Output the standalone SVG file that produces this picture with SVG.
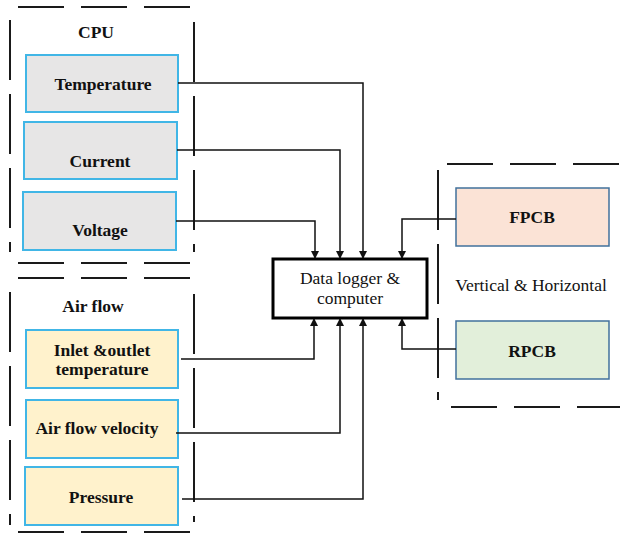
<svg xmlns="http://www.w3.org/2000/svg" width="621" height="534" viewBox="0 0 621 534">
<style>
.dash{stroke:#1a1a1a;stroke-width:2;fill:none;stroke-dasharray:46,17}
.dashv{stroke:#1a1a1a;stroke-width:2;fill:none;stroke-dasharray:60,14}
.cpu{fill:#e7e6e6;stroke:#41b6e6;stroke-width:2}
.air{fill:#fff2cc;stroke:#41b6e6;stroke-width:2}
.pcb{stroke:#41719c;stroke-width:1.5}
.b{font-family:"Liberation Serif","Times New Roman",serif;font-weight:bold;font-size:17.5px;fill:#111;text-anchor:middle}
.n{font-family:"Liberation Serif","Times New Roman",serif;font-size:17.5px;fill:#111;text-anchor:middle}
.c{stroke:#111;stroke-width:1.5;fill:none;marker-end:url(#ah)}
</style>
<defs>
<marker id="ah" markerWidth="8" markerHeight="10" refX="7" refY="4" orient="auto" markerUnits="userSpaceOnUse">
<path d="M0,0 L8,4 L0,8 z" fill="#111"/>
</marker>
</defs>
<g id="groups">
<line class="dash" x1="18" y1="7" x2="194" y2="7"/>
<line class="dashv" x1="10" y1="20" x2="10" y2="252"/>
<line class="dashv" x1="194" y1="22" x2="194" y2="252"/>
<line class="dash" x1="18" y1="263" x2="194" y2="263"/>
<line class="dash" x1="18" y1="278" x2="194" y2="278"/>
<line class="dashv" x1="10" y1="292" x2="10" y2="525"/>
<line class="dashv" x1="194" y1="294" x2="194" y2="522"/>
<line class="dash" x1="18" y1="532" x2="194" y2="532"/>
<line class="dash" x1="447" y1="164" x2="620" y2="164"/>
<line class="dashv" x1="438" y1="170" x2="438" y2="400"/>
<line class="dash" x1="451" y1="407" x2="620" y2="407"/>
</g>
<text class="b" x="96" y="38">CPU</text>
<text class="b" x="93" y="312">Air flow</text>
<g id="temperature"><rect class="cpu" x="26" y="55" width="152" height="57"/><text class="b" x="103" y="90">Temperature</text></g>
<g id="current"><rect class="cpu" x="24" y="122" width="153" height="57"/><text class="b" x="100" y="167">Current</text></g>
<g id="voltage"><rect class="cpu" x="23" y="192" width="153" height="58"/><text class="b" x="100" y="236">Voltage</text></g>
<g id="inlet"><rect class="air" x="26" y="330" width="152" height="58"/><text class="b" x="102" y="356">Inlet &amp;outlet</text><text class="b" x="102" y="375">temperature</text></g>
<g id="velocity"><rect class="air" x="26" y="400" width="152" height="58"/><text class="b" x="97" y="434">Air flow velocity</text></g>
<g id="pressure"><rect class="air" x="25" y="467" width="153" height="58"/><text class="b" x="101" y="503">Pressure</text></g>
<g id="logger"><rect x="273" y="259" width="154" height="59" fill="#fff" stroke="#000" stroke-width="3"/><text class="n" x="350" y="284">Data logger &amp;</text><text class="n" x="350" y="304">computer</text></g>
<g id="fpcb"><rect class="pcb" x="456" y="188" width="153" height="58" fill="#fbe3d6"/><text class="b" x="532" y="223">FPCB</text></g>
<g id="rpcb"><rect class="pcb" x="456" y="321" width="153" height="58" fill="#e2efda"/><text class="b" x="532" y="357">RPCB</text></g>
<text class="n" x="531" y="291">Vertical &amp; Horizontal</text>
<g id="connectors">
<polyline class="c" points="178,83 363,83 363,258"/>
<polyline class="c" points="177,150 340,150 340,258"/>
<polyline class="c" points="176,221 315,221 315,258"/>
<polyline class="c" points="456,219 402,219 402,258"/>
<polyline class="c" points="181,359 314,359 314,319"/>
<polyline class="c" points="176,433 340,433 340,319"/>
<polyline class="c" points="182,499 363,499 363,319"/>
<polyline class="c" points="456,349 402,349 402,319"/>
</g>
</svg>
